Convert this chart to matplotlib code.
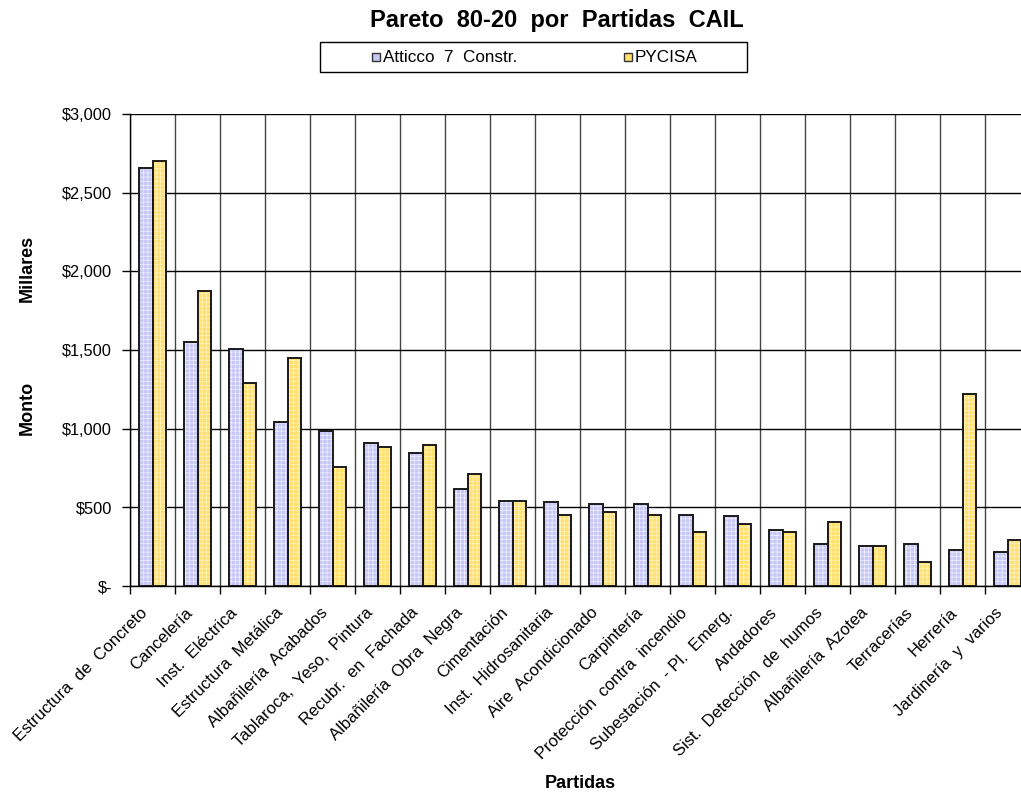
import matplotlib
matplotlib.use("Agg")
import matplotlib.pyplot as plt
from matplotlib.patches import Rectangle
from matplotlib.ticker import FuncFormatter, MultipleLocator
import numpy as np

plt.rcParams['font.family'] = ['Liberation Sans', 'DejaVu Sans']
plt.rcParams['hatch.linewidth'] = 0.5

partidas = ['Estructura  de  Concreto', 'Cancelería', 'Inst.  Eléctrica',
            'Estructura  Metálica', 'Albañilería  Acabados',
            'Tablaroca,  Yeso,  Pintura', 'Recubr.  en  Fachada',
            'Albañilería  Obra  Negra', 'Cimentación', 'Inst.  Hidrosanitaria',
            'Aire  Acondicionado', 'Carpintería', 'Protección  contra  incendio',
            'Subestación  - Pl.  Emerg.', 'Andadores', 'Sist.  Detección  de  humos',
            'Albañilería  Azotea', 'Terracerías', 'Herrería', 'Jardinería  y  varios']
atticco = [2655, 1551, 1509, 1045, 983, 906, 847, 619, 543, 532,
           520, 520, 451, 443, 356, 267, 254, 267, 229, 216]
pycisa = [2704, 1875, 1289, 1449, 758, 885, 898, 711, 543, 451,
          472, 451, 343, 394, 343, 407, 254, 153, 1221, 292]
series = ['Atticco  7  Constr.', 'PYCISA']
colores = ['#C8C8F6', '#FFE06C']
tramas = ['#EFEFFF', '#FFF3C4']

fig = plt.figure(figsize=(10.21, 7.92), dpi=100)
# el area de graficado sigue un poco mas alla del borde derecho
ax = fig.add_axes([130/1021, 1-586/792, 900/1021, 472/792])

x = np.arange(len(partidas))
w = 0.31
for k, (vals, col, tr) in enumerate(zip([atticco, pycisa], colores, tramas)):
    pos = x - w/2 + k*w
    ax.bar(pos, vals, w, color=col, hatch='++++', edgecolor=tr, linewidth=0, zorder=3)
    ax.bar(pos, vals, w, fill=False, edgecolor='#1a1a1a', linewidth=1.4, zorder=4)

ax.set_xlim(-0.5, len(partidas) - 0.5)
ax.set_ylim(0, 3000)
ax.yaxis.set_major_locator(MultipleLocator(500))
ax.yaxis.set_major_formatter(FuncFormatter(lambda v, p: '$-' if v == 0 else '${:,.0f}'.format(v)))
ax.tick_params(axis='y', direction='out', length=6, width=1, labelsize=11.8, pad=7)

# etiquetas giradas: el final del texto queda un poco a la izquierda del centro
ax.set_xticks(x - 0.16)
ax.set_xticklabels(partidas, rotation=45, ha='right', va='center',
                   rotation_mode='anchor', fontsize=12)
ax.tick_params(axis='x', which='major', length=0, pad=17.5)
ax.set_xticks(np.arange(len(partidas) + 1) - 0.5, minor=True)
ax.tick_params(axis='x', which='minor', direction='out', length=6, width=1)

ax.grid(axis='y', which='major', color='black', linewidth=1, zorder=1)
ax.grid(axis='x', which='minor', color='#444444', linewidth=1, zorder=1)
ax.set_axisbelow(True)
for s in ['top', 'right']:
    ax.spines[s].set_visible(False)
for s in ['left', 'bottom']:
    ax.spines[s].set_color('black')
    ax.spines[s].set_linewidth(1)

fig.text(557/1021, 1-20/792, 'Pareto  80-20  por  Partidas  CAIL',
         ha='center', va='center', fontsize=17, fontweight='bold')
fig.text(27/1021, 1-268/792, 'Millares', rotation=90, ha='center', va='center',
         fontsize=13, fontweight='bold')
fig.text(27/1021, 1-408/792, 'Monto', rotation=90, ha='center', va='center',
         fontsize=13, fontweight='bold')
fig.text(580/1021, 1-783/792, 'Partidas', ha='center', va='center',
         fontsize=13, fontweight='bold')

# leyenda en recuadro bajo el titulo
fig.patches.append(Rectangle((320/1021, 1-72/792), 427/1021, 30/792,
                             transform=fig.transFigure, fill=False,
                             edgecolor='black', linewidth=1))
for lx, nombre, col in zip([372, 624], series, colores):
    fig.patches.append(Rectangle((lx/1021, 1-61/792), 8/1021, 8/792,
                                 transform=fig.transFigure, facecolor=col,
                                 edgecolor='#333333', linewidth=1))
    fig.text((lx + 11)/1021, 1-57/792, nombre, ha='left', va='center', fontsize=12.3)

fig.savefig('out.png', dpi=100)
